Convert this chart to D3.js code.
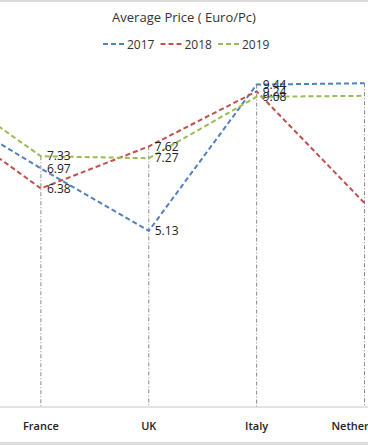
<!DOCTYPE html>
<html>
<head>
<meta charset="utf-8">
<script src="https://cdn.jsdelivr.net/npm/d3@7"></script>
<style>
  body { margin: 0; background: #fff; }
  svg { display: block; font-family: "Open Sans", "Noto Sans", sans-serif; }
</style>
</head>
<body>
<div id="chart"></div>
<script>
// categories (first one sits off the left edge of the crop)
var countries = ["Germany", "France", "UK", "Italy", "Netherlands"];
var years = ["2017", "2018", "2019"];
var v2017 = [8.90, 6.97, 5.13, 9.44, 9.48];
var v2018 = [8.68, 6.38, 7.62, 9.24, 5.95];
var v2019 = [9.58, 7.33, 7.27, 9.08, 9.11];
var colors = ["#4f81bd", "#c0504d", "#9bbb59"];

var width = 368, height = 445;

var series = [v2017, v2018, v2019].map(function(vals, i) {
    return {
        year: years[i],
        color: colors[i],
        values: vals.map(function(v, j) { return {cat: countries[j], v: v}; })
    };
});

var svg = d3.select("#chart").append("svg")
    .attr("width", width)
    .attr("height", height);

// thin grey frame strips top and bottom
svg.append("rect").attr("x", 0).attr("y", 0).attr("width", width).attr("height", 2).attr("fill", "#dcdcdc");
svg.append("rect").attr("x", 0).attr("y", 442).attr("width", width).attr("height", 3).attr("fill", "#dcdcdc");

var x = d3.scalePoint()
    .domain(countries)
    .range([-67, 364.5]);

var y = d3.scaleLinear()
    .domain([0, 10])
    .range([405, 65.6]);

// title
svg.append("text")
    .attr("x", 184)
    .attr("y", 22)
    .attr("text-anchor", "middle")
    .attr("font-size", 13)
    .attr("fill", "#333")
    .text("Average Price ( Euro/Pc)");

// legend
var legend = svg.append("g")
    .selectAll("g")
    .data(series)
    .enter().append("g")
    .attr("transform", function(d, i) { return "translate(" + (103 + i * 57.5) + ",44)"; });

legend.append("line")
    .attr("x1", 0).attr("x2", 21)
    .attr("stroke", function(d) { return d.color; })
    .attr("stroke-width", 2)
    .attr("stroke-dasharray", "5,3");

legend.append("text")
    .attr("x", 24)
    .attr("y", 4.5)
    .attr("font-size", 12)
    .attr("fill", "#333")
    .text(function(d) { return d.year; });

// x axis
var axisY = 407;
svg.append("line")
    .attr("x1", 0).attr("x2", width)
    .attr("y1", axisY).attr("y2", axisY)
    .attr("stroke", "#c8c8c8")
    .attr("stroke-width", 1);

svg.append("g")
    .selectAll("text")
    .data(countries)
    .enter().append("text")
    .attr("x", function(d) { return x(d); })
    .attr("y", 430)
    .attr("text-anchor", "middle")
    .attr("font-size", 11)
    .attr("font-weight", 600)
    .attr("fill", "#222")
    .text(function(d) { return d; });

// drop lines from the highest point of each category
svg.append("g")
    .selectAll("line")
    .data(countries)
    .enter().append("line")
    .attr("x1", function(d) { return x(d); })
    .attr("x2", function(d) { return x(d); })
    .attr("y1", function(d, j) { return y(d3.max(series, function(s) { return s.values[j].v; })); })
    .attr("y2", axisY)
    .attr("stroke", "#888")
    .attr("stroke-width", 1)
    .attr("stroke-dasharray", "4,2,1,2");

// series lines
var line = d3.line()
    .x(function(d) { return x(d.cat); })
    .y(function(d) { return y(d.v); });

svg.append("g")
    .selectAll("path")
    .data(series)
    .enter().append("path")
    .attr("d", function(d) { return line(d.values); })
    .attr("fill", "none")
    .attr("stroke", function(d) { return d.color; })
    .attr("stroke-width", 2)
    .attr("stroke-dasharray", "5,3");

// value labels
series.forEach(function(s) {
    svg.append("g")
        .selectAll("text")
        .data(s.values)
        .enter().append("text")
        .attr("x", function(d) { return x(d.cat) + 6; })
        .attr("y", function(d) { return y(d.v); })
        .attr("dy", "0.35em")
        .attr("font-size", 12)
        .attr("fill", "#222")
        .text(function(d) { return d.v.toFixed(2); });
});
</script>
</body>
</html>
